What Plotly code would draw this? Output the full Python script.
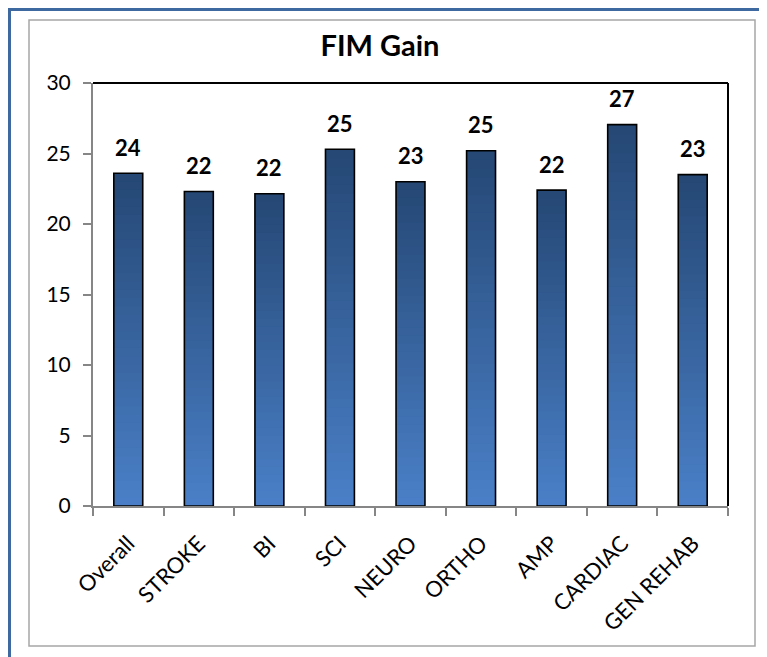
import plotly.graph_objects as go

categories = ["Overall", "STROKE", "BI", "SCI", "NEURO", "ORTHO", "AMP", "CARDIAC", "GEN REHAB"]
values = [23.6, 22.3, 22.15, 25.3, 23.0, 25.2, 22.4, 27.05, 23.5]
labels = ["24", "22", "22", "25", "23", "25", "22", "27", "23"]
y_ticks = [0, 5, 10, 15, 20, 25, 30]

OFF = 8  # page body margin
W, H = 767 - OFF, 657 - OFF
L, R, T, B = 93 - OFF, 728 - OFF, 83 - OFF, 506 - OFF

top_rgb = (0x25, 0x47, 0x74)
bot_rgb = (0x4a, 0x80, 0xc8)
N = 40

FONT = "Lato"

fig = go.Figure()
for i in range(N):
    f = (i + 0.5) / N  # 0 bottom -> 1 top
    c = tuple(int(round(bot_rgb[k] + (top_rgb[k] - bot_rgb[k]) * f)) for k in range(3))
    h = 1.0 if i == N - 1 else 2.0
    fig.add_trace(go.Bar(
        x=categories,
        y=[v / N * h for v in values],
        base=[v * i / N for v in values],
        marker=dict(color="rgb(%d,%d,%d)" % c, line=dict(width=0)),
        width=0.41,
        hoverinfo="skip",
        showlegend=False,
    ))

fig.add_trace(go.Bar(
    x=categories, y=values, width=0.41,
    marker=dict(color="rgba(0,0,0,0)", line=dict(color="black", width=1.6)),
    showlegend=False,
))

for c, v, t in zip(categories, values, labels):
    fig.add_annotation(x=c, y=v, text="<b>%s</b>" % t, showarrow=False,
                       yshift=26, yanchor="middle",
                       font=dict(family=FONT, size=22, color="black"))

def px_x(p):  # page px -> paper
    return (p - OFF - L) / (R - L)

def px_y(p):
    return (B - (p - OFF)) / (B - T)

shapes = [
    # outer blue frame
    dict(type="rect", xref="paper", yref="paper",
         x0=px_x(9.5), x1=px_x(800), y0=px_y(9.5), y1=px_y(700),
         line=dict(color="#3d68a0", width=3), fillcolor="rgba(0,0,0,0)", layer="below"),
    # inner gray frame
    dict(type="rect", xref="paper", yref="paper",
         x0=px_x(29), x1=px_x(755), y0=px_y(20), y1=px_y(646),
         line=dict(color="#a6a6a6", width=1.5), fillcolor="rgba(0,0,0,0)", layer="below"),
    # top and right plot borders (black)
    dict(type="line", xref="paper", yref="paper", x0=0, x1=1, y0=1, y1=1,
         line=dict(color="black", width=2)),
    dict(type="line", xref="paper", yref="paper", x0=1, x1=1, y0=0, y1=1,
         line=dict(color="black", width=2)),
]

fig.update_layout(
    width=W, height=H,
    margin=dict(l=L, r=W - R, t=T, b=H - B),
    paper_bgcolor="white", plot_bgcolor="white",
    barmode="overlay",
    shapes=shapes,
    title=dict(text="<b>FIM Gain</b>", x=(380 - OFF) / W, xanchor="center",
               y=1 - (46 - OFF) / H, yanchor="middle",
               font=dict(family=FONT, size=29, color="black")),
    font=dict(family=FONT, color="black"),
    xaxis=dict(
        type="category", categoryorder="array", categoryarray=categories,
        showline=True, linecolor="#868686", linewidth=2,
        ticks="outside", tickson="boundaries", ticklen=8, tickcolor="#868686", tickwidth=1.5,
        tickangle=-45, tickfont=dict(family=FONT, size=22, color="black"),
        ticklabelstandoff=14,
        showgrid=False, zeroline=False,
    ),
    yaxis=dict(
        range=[0, 30], tickvals=y_ticks, ticktext=[str(t) for t in y_ticks],
        showline=True, linecolor="#868686", linewidth=2,
        ticks="outside", ticklen=8, tickcolor="#868686", tickwidth=1.5,
        tickfont=dict(family=FONT, size=21, color="black"),
        ticklabelstandoff=8,
        showgrid=False, zeroline=False,
    ),
)

fig.write_html("out.html")
